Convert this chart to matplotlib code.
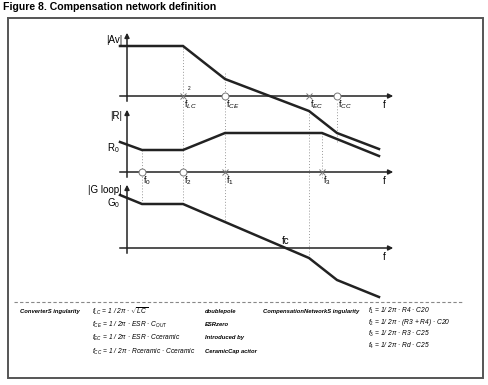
import matplotlib
matplotlib.use("Agg")
import matplotlib.pyplot as plt

plt.rcParams["font.family"] = ["Liberation Sans", "DejaVu Sans"]
plt.rcParams["mathtext.fontset"] = "custom"
plt.rcParams["mathtext.rm"] = "Liberation Sans"
plt.rcParams["mathtext.it"] = "Liberation Sans:italic"

# asymptotic Bode curves, in drawing units (x grows with frequency, y grows downward)
av_x = [120, 183, 225, 309, 337, 379]
av_y = [46, 46, 79, 111, 133, 149]
r_x = [120, 142, 183, 225, 322, 379]
r_y = [142, 150, 150, 133, 133, 156]
g_x = [120, 142, 183, 309, 337, 379]
g_y = [195, 204, 204, 258, 280, 297]

# singularities on each frequency axis: (x, kind, label)
av_marks = [(183, "x", r"f$_{LC}$"), (225, "o", r"f$_{CE}$"),
            (309, "x", r"f$_{EC}$"), (337, "o", r"f$_{CC}$")]
r_marks = [(142, "o", r"f$_0$"), (183, "o", r"f$_2$"),
           (225, "x", r"f$_1$"), (322, "x", r"f$_3$")]

# dotted guides: x, top, bottom
guides = [(142, 150, 205), (183, 48, 205), (225, 73, 222),
          (309, 111, 258), (322, 133, 178), (337, 103, 143)]

# panels: y of frequency axis, y of arrow tip, label, label y
panels = [(96, 30, "|Av|", 40), (172, 107, "|R|", 116), (248, 182, "|G loop|", 190)]

left_rows = [
    ("ConverterS ingularity", r"$f_{LC}$ = 1 / 2π · $\sqrt{LC}$", "doublepole"),
    ("", r"$f_{CE}$ = 1 / 2π · ESR · $C_{OUT}$", "ESRzero"),
    ("", r"$f_{EC}$ = 1 / 2π · ESR · Cceramic", "Introduced by"),
    ("", r"$f_{CC}$ = 1 / 2π · Rceramic · Cceramic", "CeramicCap acitor"),
]
left_y = [311, 325, 338, 352]
right_head = "CompensationNetworkS ingularity"
right_rows = [r"$f_1$ = 1/ 2π · R4 · C20", r"$f_2$ = 1/ 2π · (R3 + R4) · C20",
              r"$f_3$ = 1/ 2π · R3 · C25", r"$f_4$ = 1/ 2π · Rd · C25"]
right_y = [311, 322, 334, 346]

fig = plt.figure(figsize=(4.88, 3.85), dpi=100)
ax = fig.add_axes([0, 0, 1, 1])
ax.set_xlim(0, 488)
ax.set_ylim(385, 0)
ax.axis("off")

fig.text(3 / 488, 1 - 7 / 385, "Figure 8. Compensation network definition",
         fontsize=7.6, fontweight="bold", va="center", ha="left")

# outer frame
ax.plot([8, 482.5, 482.5, 8, 8], [17.5, 17.5, 377.5, 377.5, 17.5],
        color="#555555", lw=1.4, solid_joinstyle="miter")
ax.plot([14, 462], [302, 302], color="#888888", lw=0.8, ls=(0, (3, 2)))

for x, top, bot in guides:
    ax.plot([x, x], [top, bot], color="#999999", lw=0.7, ls=(0, (1, 2)))

for axis_y, tip_y, label, label_y in panels:
    ax.plot([120, 390], [axis_y, axis_y], color="#222222", lw=1.1)
    ax.annotate("", xy=(396, axis_y), xytext=(385, axis_y),
                arrowprops=dict(arrowstyle="-|>", color="#222222", lw=1.1,
                                mutation_scale=7))
    ax.plot([127, 127], [axis_y + 5, tip_y + 6], color="#222222", lw=1.1)
    ax.annotate("", xy=(127, tip_y), xytext=(127, tip_y + 10),
                arrowprops=dict(arrowstyle="-|>", color="#222222", lw=1.1,
                                mutation_scale=7))
    ax.text(122, label_y, label, fontsize=7, ha="right", va="center")
    ax.text(383, axis_y + 9, "f", fontsize=7, ha="left", va="center")

ax.text(107, 148, r"R$_0$", fontsize=7, ha="left", va="center")
ax.text(107, 203, r"G$_0$", fontsize=7, ha="left", va="center")
ax.text(282, 241, "fc", fontsize=7, ha="left", va="center")
ax.text(188, 89, "2", fontsize=3.5, ha="left", va="center")

for xs, ys in [(av_x, av_y), (r_x, r_y), (g_x, g_y)]:
    ax.plot(xs, ys, color="#222222", lw=1.8, solid_joinstyle="miter")

for marks, axis_y in [(av_marks, 96), (r_marks, 172)]:
    for x, kind, label in marks:
        if kind == "x":
            ax.plot(x, axis_y, marker="x", ms=5, mew=0.7, color="#777777")
        else:
            ax.plot(x, axis_y, marker="o", ms=5, mew=0.7, mfc="white",
                    mec="#777777")
        ax.text(x + 1, axis_y + 9, label, fontsize=6.5, ha="left", va="center")

tstyle = dict(fontsize=4.8, style="italic", va="center", ha="left")
hstyle = dict(tstyle, fontsize=4.2, fontweight="bold")
for (head, formula, note), y in zip(left_rows, left_y):
    if head:
        ax.text(20, y, head, **hstyle)
    ax.text(92, y, formula, **tstyle)
    ax.text(205, y, note, **hstyle)
ax.text(263, right_y[0], right_head, **hstyle)
for formula, y in zip(right_rows, right_y):
    ax.text(368, y, formula, **tstyle)

fig.savefig("out.png", dpi=100)
